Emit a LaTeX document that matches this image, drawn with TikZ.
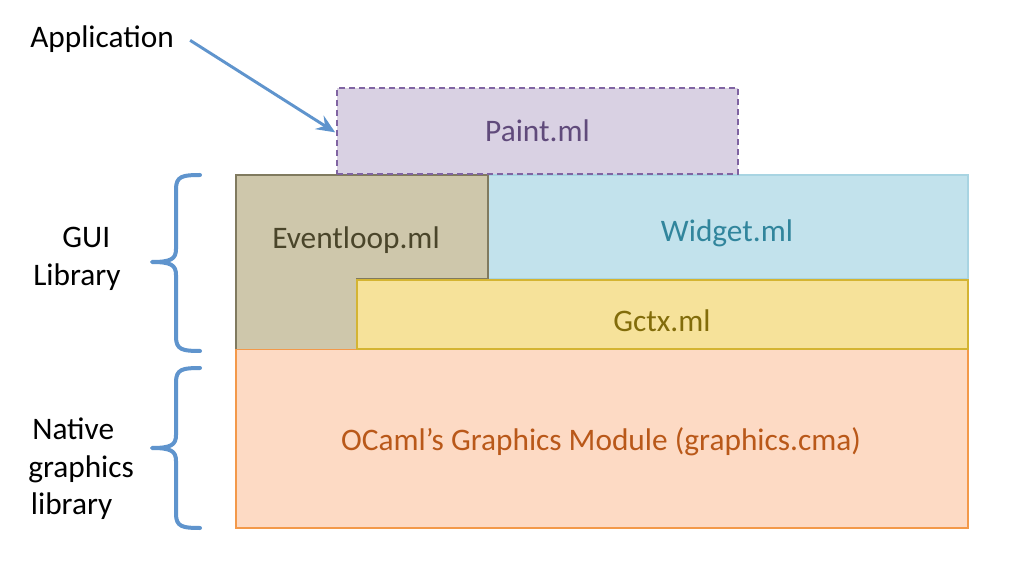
\documentclass[tikz,border=0pt]{standalone}
\usepackage{fontspec}
\setmainfont{Carlito}
\usetikzlibrary{arrows.meta}
\definecolor{arrowblue}{RGB}{95,148,205}
\definecolor{paintfill}{RGB}{217,209,227}
\definecolor{paintdraw}{RGB}{128,100,162}
\definecolor{painttext}{RGB}{96,74,123}
\definecolor{evfill}{RGB}{206,199,171}
\definecolor{evdraw}{RGB}{128,122,95}
\definecolor{evtext}{RGB}{74,69,42}
\definecolor{wfill}{RGB}{194,226,236}
\definecolor{wdraw}{RGB}{168,212,226}
\definecolor{wtext}{RGB}{49,133,156}
\definecolor{gfill}{RGB}{246,226,154}
\definecolor{gdraw}{RGB}{212,180,50}
\definecolor{gtext}{RGB}{130,108,10}
\definecolor{ofill}{RGB}{253,218,196}
\definecolor{odraw}{RGB}{243,153,74}
\definecolor{otext}{RGB}{185,88,25}
\tikzset{
  lbl/.style={font=\fontsize{23.5}{28.2}\selectfont, inner sep=0pt, align=center},
  layer/.style={line width=1pt},
  bracepath/.style={draw=arrowblue, line width=3pt, line cap=round, line join=round},
  pointer/.style={draw=arrowblue, line width=2.2pt, -{Stealth[length=14pt,width=12pt,inset=5pt]}}
}
\begin{document}
\begin{tikzpicture}[x=0.75pt,y=-0.75pt]
\useasboundingbox[fill=white] (0,0) rectangle (1025,577);
% layers
\fill[ofill] (236,349) rectangle (968,528);
\draw[layer, draw=odraw] (236,349) rectangle (968,528);
\fill[wfill] (488,175) rectangle (968,279);
\draw[layer, draw=wdraw] (488,175) rectangle (968,279);
\fill[evfill] (236,175) -- (488,175) -- (488,279) -- (357,279) -- (357,349) -- (236,349) -- cycle;
\draw[layer, draw=evdraw] (236,349) -- (236,175) -- (488,175) -- (488,279) -- (357,279) -- (357,349);
\fill[gfill] (357,280) rectangle (968,349);
\draw[layer, draw=gdraw] (357,280) rectangle (968,349);
\node[lbl, text=otext] (ocaml) at (601,442) {OCaml’s Graphics Module (graphics.cma)};
\node[lbl, text=wtext] (widget) at (727,233) {Widget.ml};
\node[lbl, text=evtext] (event) at (356,240) {Eventloop.ml};
\node[lbl, text=gtext] (gctx) at (662,321) {Gctx.ml};
% paint
\node[lbl, text=painttext, fill=paintfill, draw=paintdraw, dash pattern=on 4.5pt off 3pt, line width=0.8pt,
      minimum width=401*0.75pt, minimum height=86*0.75pt] (paint) at (537.5,131) {\raisebox{-2pt}{Paint.ml}};
% labels
\node[lbl, anchor=west] (app) at (30,39) {Application};
\node[lbl] (gui) at (77,259) {\makebox[0pt]{\hspace{14pt}GUI}\\Library};
\node[lbl, align=left, anchor=west] (native) at (28,469) {\hspace{3pt}Native\\graphics\\\hspace{2pt}library};
% arrow
\draw[pointer] ([xshift=12pt,yshift=-1pt]app.east) -- ([xshift=-1pt,yshift=-1pt]paint.west);
% braces
\coordinate (b1) at (200,175);
\coordinate (b2) at (200,351);
\draw[bracepath] (b1) .. controls (183,175) and (176,176) .. (176,189) -- (176,249)
  .. controls (176,259) and (171,262) .. (152,262)
  .. controls (171,262) and (176,265) .. (176,275) -- (176,337)
  .. controls (176,350) and (183,351) .. (b2);
\coordinate (c1) at (200,368);
\coordinate (c2) at (200,528);
\draw[bracepath] (c1) .. controls (183,368) and (176,369) .. (176,382) -- (176,435)
  .. controls (176,445) and (171,448) .. (152,448)
  .. controls (171,448) and (176,451) .. (176,461) -- (176,514)
  .. controls (176,527) and (183,528) .. (c2);
\end{tikzpicture}
\end{document}
